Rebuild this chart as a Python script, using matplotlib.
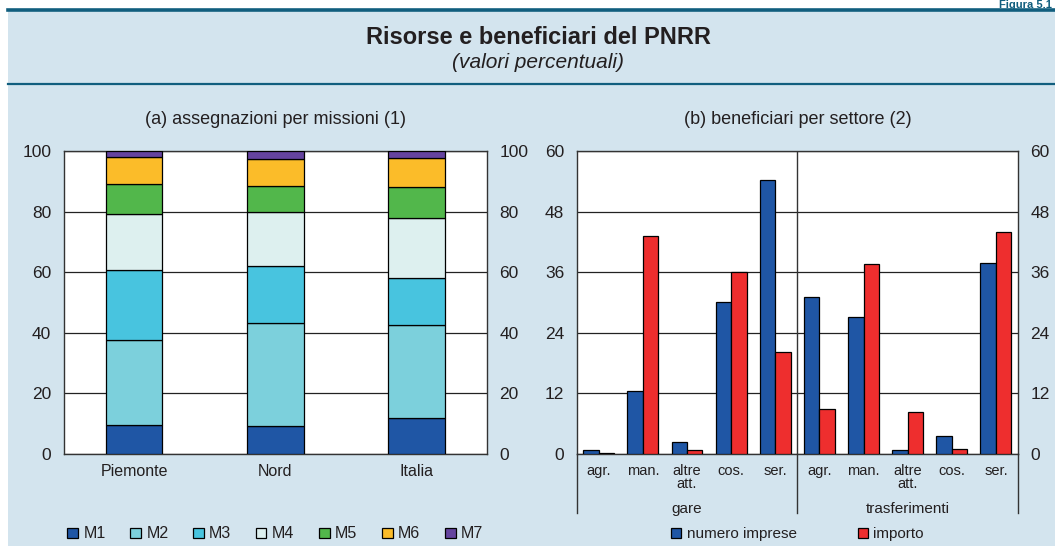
import matplotlib.pyplot as plt
import numpy as np
from matplotlib.patches import Rectangle
from matplotlib.lines import Line2D

plt.rcParams['font.family'] = ['Liberation Sans', 'DejaVu Sans']

# (a) quota delle assegnazioni per missione
regioni = ['Piemonte', 'Nord', 'Italia']
missioni = ['M1', 'M2', 'M3', 'M4', 'M5', 'M6', 'M7']
M1 = [9.6, 9.2, 12.0]
M2 = [27.9, 33.9, 30.6]
M3 = [23.3, 19.1, 15.6]
M4 = [18.5, 17.7, 19.6]
M5 = [9.8, 8.5, 10.2]
M6 = [8.9, 9.0, 9.7]
M7 = [2.0, 2.6, 2.3]
col_missioni = ['#1f56a5', '#7cd0dc', '#48c4df', '#ddf0ef', '#52b74b', '#fbbc29', '#65449f']

# (b) beneficiari per settore
settori = ['agr.', 'man.', 'altre\natt.', 'cos.', 'ser.']
gruppi = ['gare', 'trasferimenti']
numero_imprese = [0.8, 12.5, 2.4, 30.1, 54.2, 31.0, 27.1, 0.7, 3.5, 37.8]
importo = [0.1, 43.2, 0.7, 36.0, 20.2, 9.0, 37.6, 8.4, 1.0, 44.0]

sfondo = '#d3e4ee'
teal = '#115e7e'
testo = '#231f20'

fig = plt.figure(figsize=(10.55, 5.46), dpi=100)
W, H = 1055, 546

# sfondo azzurro e filetti
fig.patches.append(Rectangle((8 / W, 0), 1 - 8 / W, 1 - 10 / H, transform=fig.transFigure,
                             facecolor=sfondo, edgecolor='none', zorder=-10))
fig.add_artist(Line2D([8 / W, 1], [1 - 10 / H] * 2, color=teal, lw=2.6))
fig.add_artist(Line2D([8 / W, 1], [1 - 83.5 / H] * 2, color=teal, lw=1.6))
fig.text(1052 / W, 1 - 8 / H, 'Figura 5.1', fontsize=8, fontweight='bold', color=teal,
         ha='right', va='baseline')

fig.text(538 / W, 1 - 37 / H, 'Risorse e beneficiari del PNRR', ha='center', va='center',
         fontsize=17, fontweight='bold', color=testo)
fig.text(538 / W, 1 - 63 / H, '(valori percentuali)', ha='center', va='center',
         fontsize=15, style='italic', color=testo)

bottom = 1 - 454 / H
height = 303 / H

# ---- pannello (a) ----
ax1 = fig.add_axes([63.7 / W, bottom, 423.3 / W, height])
x = np.arange(len(regioni))
base = np.zeros(len(regioni))
for nome, vals, c in zip(missioni, [M1, M2, M3, M4, M5, M6, M7], col_missioni):
    ax1.bar(x, vals, 0.4, bottom=base, color=c, edgecolor='black', linewidth=0.9, label=nome, zorder=3)
    base += np.array(vals)
ax1.set_xlim(-0.5, 2.5)
ax1.set_ylim(0, 100)
ax1.set_yticks([0, 20, 40, 60, 80, 100])
ax1.set_xticks(x)
ax1.set_xticklabels(regioni, fontsize=11.5, color=testo)
ax1.tick_params(axis='x', length=0, pad=7)
ax1.tick_params(axis='y', length=0, labelsize=12.5, labelcolor=testo, labelleft=True,
                labelright=True, pad=9)
ax1.text(0.5, 1 + 32 / 303, '(a) assegnazioni per missioni (1)', transform=ax1.transAxes,
         ha='center', va='center', fontsize=13, color=testo)
ax1.legend(loc='center', bbox_to_anchor=(0.5, -(534 - 454) / 303), ncol=7, frameon=False,
           fontsize=11.5, handlelength=0.65, handleheight=0.65, handletextpad=0.35,
           columnspacing=1.55, labelcolor=testo)

# ---- pannello (b) ----
ax2 = fig.add_axes([576.7 / W, bottom, 441.3 / W, height])
xb = np.arange(len(numero_imprese))
w = 0.35
ax2.bar(xb - w / 2, numero_imprese, w, color='#1f56a5', edgecolor='black', linewidth=0.9,
        label='numero imprese', zorder=3)
ax2.bar(xb + w / 2, importo, w, color='#ee2e2e', edgecolor='black', linewidth=0.9,
        label='importo', zorder=3)
ax2.axvline(4.5, color='#333333', lw=1.0, zorder=2)
ax2.set_xlim(-0.5, 9.5)
ax2.set_ylim(0, 60)
ax2.set_yticks([0, 12, 24, 36, 48, 60])
ax2.set_xticks(xb)
ax2.set_xticklabels(settori * 2, fontsize=10.5, color=testo, linespacing=0.9)
ax2.tick_params(axis='x', length=0, pad=7)
ax2.tick_params(axis='y', length=0, labelsize=12.5, labelcolor=testo, labelleft=True,
                labelright=True, pad=9)
ax2.text(0.5, 1 + 32 / 303, '(b) beneficiari per settore (2)', transform=ax2.transAxes,
         ha='center', va='center', fontsize=13, color=testo)

# separatori e nomi dei gruppi sotto l'asse
trans = ax2.get_xaxis_transform()
for xv in [-0.5, 4.5, 9.5]:
    ax2.plot([xv, xv], [0, -(513 - 454) / 303], transform=trans, color='#333333', lw=1.0,
             clip_on=False)
for i, g in enumerate(gruppi):
    ax2.text(2 + 5 * i, -(509 - 454) / 303, g, transform=trans, ha='center', va='center',
             fontsize=11, color=testo)
ax2.legend(loc='center', bbox_to_anchor=(0.5, -(534 - 454) / 303), ncol=2, frameon=False,
           fontsize=11, handlelength=0.65, handleheight=0.65, handletextpad=0.35,
           columnspacing=4.0, labelcolor=testo)

for ax in (ax1, ax2):
    ax.set_facecolor('white')
    ax.grid(axis='y', color='#222222', lw=0.9, zorder=0)
    for s in ax.spines.values():
        s.set_color('#333333')
        s.set_linewidth(1.0)

fig.savefig('out.png', dpi=100, facecolor='white')
